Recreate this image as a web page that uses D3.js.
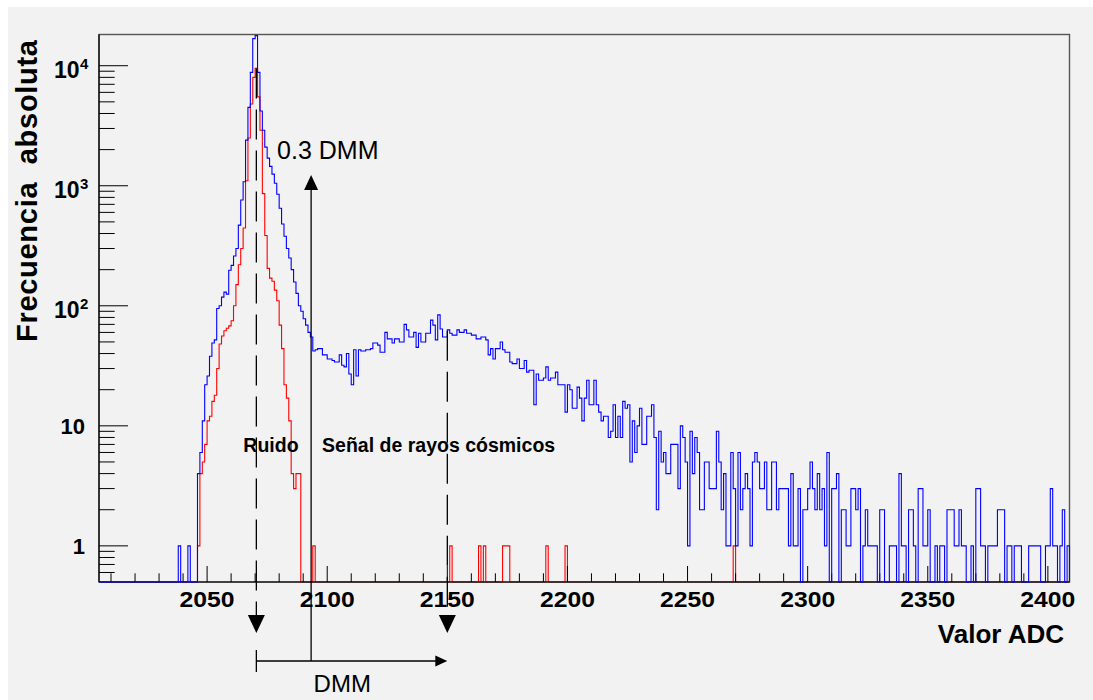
<!DOCTYPE html>
<html>
<head>
<meta charset="utf-8">
<script src="https://cdn.jsdelivr.net/npm/d3@7"></script>
<style>
  body { margin: 0; background: #fff; }
  text { font-family: "Liberation Sans", Arial, sans-serif; fill: #000; }
</style>
</head>
<body>
<div id="chart-area"></div>
<script>
// histogram bins are 1 ADC count wide, each row below is one decade of bins
const adcMin = 2005;
const adcMax = 2409;

// all events (blue)
const blueFirstBin = 2030;
const blueCounts = [
  0, 0, 0, 0, 0, 0, 0, 0, 1, 0,                          // 2030
  0, 0, 1, 0, 0, 0, 4, 6, 11, 22,                        // 2040
  26, 38, 49, 52, 95, 100, 118, 130, 125, 198,           // 2050
  217, 260, 300, 470, 760, 1080, 2400, 4500, 8800, 16800,// 2060
  17800, 8800, 4200, 2900, 2100, 1700, 1450, 1250, 1050, 850, // 2070
  650, 480, 380, 300, 250, 200, 158, 127, 100, 90,       // 2080
  78, 69, 60, 55, 42, 43, 44, 44, 39, 39,                // 2090
  36, 36, 35, 34, 34, 39, 32, 31, 40, 27,                // 2100
  22, 43, 26, 43, 42, 42, 43, 43, 44, 49,                // 2110
  49, 47, 41, 41, 60, 53, 53, 49, 53, 53,                // 2120
  50, 50, 70, 63, 55, 55, 60, 45, 59, 50,                // 2130
  50, 59, 59, 76, 69, 52, 84, 64, 55, 55,                // 2140
  63, 59, 57, 57, 63, 60, 60, 63, 59, 59,                // 2150
  57, 57, 53, 53, 55, 55, 52, 39, 44, 36,                // 2160
  44, 44, 50, 43, 41, 41, 34, 33, 33, 36,                // 2170
  30, 30, 35, 28, 29, 29, 15, 27, 24, 24,                // 2180
  25, 31, 24, 25, 25, 28, 22, 22, 22, 13,                // 2190
  22, 20, 14, 14, 21, 17, 11, 17, 24, 15,                // 2200
  15, 24, 15, 13, 11, 12, 12, 8, 9, 15,                  // 2210
  8, 12, 8, 16, 14, 15, 5, 11, 6, 10,                    // 2220
  14, 7, 7, 12, 12, 15, 8, 2, 9, 5,                      // 2230
  6, 4, 4, 7, 7, 7, 3, 10, 8, 5,                         // 2240
  1, 9, 4, 8, 6, 2, 2, 5, 5, 3,                          // 2250
  3, 3, 9, 5, 2, 4, 1, 1, 6, 3,                          // 2260
  1, 6, 2, 3, 4, 3, 1, 5, 6, 5,                          // 2270
  3, 3, 5, 2, 2, 5, 5, 2, 3, 3,                          // 2280
  3, 3, 1, 4, 1, 1, 3, 0, 2, 2,                          // 2290
  3, 5, 3, 2, 4, 2, 3, 1, 6, 0,                          // 2300
  3, 3, 4, 0, 2, 2, 1, 1, 3, 3,                          // 2310
  2, 3, 0, 1, 2, 1, 1, 1, 1, 0,                          // 2320
  2, 2, 0, 0, 1, 1, 1, 0, 4, 1,                          // 2330
  1, 0, 2, 2, 1, 0, 3, 3, 1, 1,                          // 2340
  2, 0, 0, 1, 0, 1, 1, 0, 2, 2,                          // 2350
  2, 1, 1, 2, 1, 1, 0, 0, 1, 0,                          // 2360
  3, 3, 1, 1, 0, 1, 1, 1, 1, 2,                          // 2370
  2, 2, 0, 1, 1, 0, 1, 1, 1, 0,                          // 2380
  0, 0, 1, 1, 1, 1, 1, 0, 0, 1,                          // 2390
  1, 3, 1, 1, 0, 1, 2, 0, 1                              // 2400
];

// noise only (red)
const redFirstBin = 2040;
const redCounts = [
  0, 0, 0, 0, 0, 0, 1, 4, 5, 7,                          // 2040
  11, 12, 16, 18, 30, 48, 56, 62, 65, 68,                // 2050
  75, 100, 150, 220, 300, 445, 1100, 2500, 4800, 8000,   // 2060
  9500, 5500, 2900, 860, 385, 205, 170, 160, 135, 110,   // 2070
  69, 44, 22, 17, 11, 4, 3, 4, 4, 0                      // 2080
];
// isolated red bins holding a single count
const redSingleBins = [2094, 2151, 2163, 2165, 2173, 2174, 2175, 2191, 2199, 2269];

const xLabelTicks = [2050, 2100, 2150, 2200, 2250, 2300, 2350, 2400];
const yLabelTicks = [1, 10, 100, 1000, 10000];
const yLabelBase = ["1", "10", "10", "10", "10"];
const yLabelExp = ["", "", "2", "3", "4"];

// annotations
const noisePeak = 2070.5;
const noisePeakCount = 9500;
const signalPeak = 2150;
const signalPeakCount = 62;
const threshold = 2093.3;
const thresholdArrowTop = 1230;

const margin = { top: 34.5, right: 23.5, bottom: 118, left: 99 };
const width = 1093 - margin.left - margin.right;
const height = 700 - margin.top - margin.bottom;

const svg = d3.select("#chart-area")
  .append("svg")
  .attr("width", 1093)
  .attr("height", 700);

svg.append("rect")
  .attr("x", 8).attr("y", 7)
  .attr("width", 1093 - 8).attr("height", 700 - 7)
  .attr("fill", "#f2f2f2");

const g = svg.append("g")
  .attr("transform", `translate(${margin.left}, ${margin.top})`);

const x = d3.scaleLinear().domain([adcMin, adcMax]).range([0, width]);
const y = d3.scaleLog().domain([0.5, 18200]).range([height, 0]);

function lookupFrom(first, counts) {
  const m = new Map();
  counts.forEach((c, i) => m.set(first + i, c));
  return m;
}

const blueMap = lookupFrom(blueFirstBin, blueCounts);
const redMap = lookupFrom(redFirstBin, redCounts);
redSingleBins.forEach(b => redMap.set(b, 1));

function histPoints(m) {
  const pts = [[x(adcMin), height]];
  for (let b = adcMin; b < adcMax; b++) {
    const c = m.get(b) || 0;
    const yy = c > 0 ? y(c) : height;
    pts.push([x(b), yy], [x(b + 1), yy]);
  }
  pts.push([x(adcMax), height]);
  return pts;
}

const line = d3.line();

// red goes under the axis so its empty bins hide behind the black line
g.append("path")
  .attr("d", line(histPoints(redMap)))
  .attr("fill", "none")
  .attr("stroke", "#ff0000")
  .attr("stroke-width", 1.1);

// frame
g.append("rect")
  .attr("width", width).attr("height", height)
  .attr("fill", "none")
  .attr("stroke", "#555")
  .attr("stroke-width", 1.4);

g.append("line")
  .attr("x1", 0).attr("x2", width)
  .attr("y1", height).attr("y2", height)
  .attr("stroke", "#000").attr("stroke-width", 1.2);

g.append("line")
  .attr("x1", 0).attr("x2", 0)
  .attr("y1", 0).attr("y2", height)
  .attr("stroke", "#000").attr("stroke-width", 1.2);

// x ticks, pointing up into the frame
const xTicks = d3.range(2010, 2401, 10);
g.selectAll(".xtick")
  .data(xTicks)
  .enter().append("line")
  .attr("class", "xtick")
  .attr("x1", d => x(d)).attr("x2", d => x(d))
  .attr("y1", height)
  .attr("y2", d => height - (d % 50 === 0 ? 16 : 8.7))
  .attr("stroke", "#000").attr("stroke-width", 1);

g.selectAll(".xlabel")
  .data(xLabelTicks)
  .enter().append("text")
  .attr("class", "xlabel")
  .attr("x", d => x(d))
  .attr("y", height + 25)
  .attr("text-anchor", "middle")
  .attr("font-size", 22)
  .attr("font-weight", "bold")
  .attr("textLength", 55)
  .attr("lengthAdjust", "spacingAndGlyphs")
  .text(d => d);

// y ticks, pointing right into the frame
const yTicks = y.ticks().filter(d => d > 0.5 && d < 18200);
g.selectAll(".ytick")
  .data(yTicks)
  .enter().append("line")
  .attr("class", "ytick")
  .attr("x1", 0)
  .attr("x2", d => Math.abs(Math.log10(d) - Math.round(Math.log10(d))) < 1e-9 ? 29 : 15.7)
  .attr("y1", d => y(d)).attr("y2", d => y(d))
  .attr("stroke", "#000").attr("stroke-width", 1);

yLabelTicks.forEach((v, i) => {
  if (yLabelExp[i] === "") {
    g.append("text")
      .attr("x", -14)
      .attr("y", y(v) + 8.5)
      .attr("text-anchor", "end")
      .attr("font-size", 22)
      .attr("font-weight", "bold")
      .text(yLabelBase[i]);
  } else {
    g.append("text")
      .attr("x", -19.5)
      .attr("y", y(v) + 12)
      .attr("text-anchor", "end")
      .attr("font-size", 23)
      .attr("font-weight", "bold")
      .text(yLabelBase[i]);
    g.append("text")
      .attr("x", -19)
      .attr("y", y(v) + 3.5)
      .attr("font-size", 15)
      .attr("font-weight", "bold")
      .text(yLabelExp[i]);
  }
});

// axis titles
svg.append("text")
  .attr("transform", "rotate(-90)")
  .attr("x", -191)
  .attr("y", 37)
  .attr("text-anchor", "middle")
  .attr("font-size", 29)
  .attr("font-weight", "bold")
  .attr("textLength", 302)
  .style("white-space", "pre")
  .text("Frecuencia  absoluta");

svg.append("text")
  .attr("x", 1064)
  .attr("y", 643)
  .attr("text-anchor", "end")
  .attr("font-size", 26)
  .attr("font-weight", "bold")
  .text("Valor ADC");

// all events on top
g.append("path")
  .attr("d", line(histPoints(blueMap)))
  .attr("fill", "none")
  .attr("stroke", "#0000ff")
  .attr("stroke-width", 1.1);

// annotations
const ann = g.append("g").attr("stroke", "#000").attr("stroke-width", 1.3);

const arrowBase = height + 33;
const arrowTip = height + 51;
[[noisePeak, noisePeakCount], [signalPeak, signalPeakCount]].forEach(([px, top]) => {
  ann.append("line")
    .attr("x1", x(px)).attr("x2", x(px))
    .attr("y1", y(top)).attr("y2", arrowBase)
    .attr("stroke-dasharray", "30,11");
  ann.append("path")
    .attr("d", `M${x(px) - 8.5},${arrowBase} L${x(px) + 8.5},${arrowBase} L${x(px)},${arrowTip} Z`)
    .attr("fill", "#000").attr("stroke", "none");
});

const dmmY = height + 79;
ann.append("line")
  .attr("x1", x(threshold)).attr("x2", x(threshold))
  .attr("y1", y(thresholdArrowTop) + 4).attr("y2", dmmY);
ann.append("path")
  .attr("d", `M${x(threshold) - 7},${y(thresholdArrowTop) + 15} L${x(threshold) + 7},${y(thresholdArrowTop) + 15} L${x(threshold)},${y(thresholdArrowTop)} Z`)
  .attr("fill", "#000").attr("stroke", "none");

ann.append("line")
  .attr("x1", x(noisePeak)).attr("x2", x(signalPeak) - 6)
  .attr("y1", dmmY).attr("y2", dmmY);
ann.append("line")
  .attr("x1", x(noisePeak)).attr("x2", x(noisePeak))
  .attr("y1", dmmY - 11).attr("y2", dmmY + 11);
ann.append("path")
  .attr("d", `M${x(signalPeak) - 12},${dmmY - 5.5} L${x(signalPeak)},${dmmY} L${x(signalPeak) - 12},${dmmY + 5.5} Z`)
  .attr("fill", "#000").attr("stroke", "none");

g.append("text")
  .attr("x", x(threshold) - 34)
  .attr("y", 159 - margin.top)
  .attr("font-size", 25)
  .text("0.3 DMM");

g.append("text")
  .attr("x", x(threshold) + 2.5)
  .attr("y", height + 110)
  .attr("font-size", 24)
  .text("DMM");

g.append("text")
  .attr("x", x(noisePeak) - 13)
  .attr("y", 452 - margin.top)
  .attr("font-size", 19.5)
  .attr("font-weight", "bold")
  .text("Ruido");

g.append("text")
  .attr("x", x(threshold) + 11)
  .attr("y", 452 - margin.top)
  .attr("font-size", 19.5)
  .attr("font-weight", "bold")
  .text("Señal de rayos cósmicos");
</script>
</body>
</html>
